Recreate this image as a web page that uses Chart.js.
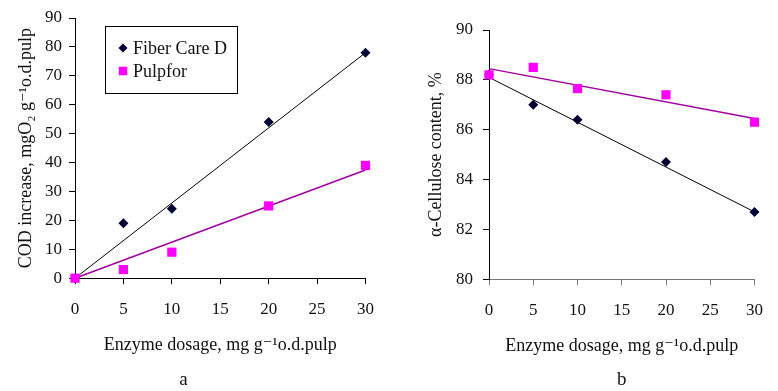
<!DOCTYPE html>
<html><head><meta charset="utf-8">
<script src="https://cdn.jsdelivr.net/npm/chart.js@4.4.1/dist/chart.umd.min.js"></script>
<style>
html,body{margin:0;padding:0;background:#fff;}
#wrap{position:relative;width:778px;height:391px;background:#fff;}
canvas{position:absolute;top:0;}
#ca{left:0}
#cb{left:389px}
</style></head><body>
<div id="wrap"><canvas id="ca" width="389" height="391"></canvas><canvas id="cb" width="389" height="391"></canvas></div>
<script>
// ---- data ----
const dosage = [0, 5, 10, 20, 30];
const codFiberCare = [0, 19, 24, 54, 78];
const codPulpfor = [0, 3, 9, 25, 39];
const celFiberCare = [88.2, 87.0, 86.4, 84.7, 82.7];
const celPulpfor = [88.2, 88.5, 87.65, 87.4, 86.3];
const trendX = [0, 30];
const codFiberTrend = [0, 78];
const codPulpforTrend = [0, 37.4];
const celFiberTrend = [88.1, 82.7];
const celPulpforTrend = [88.45, 86.45];
const xTicks = [0, 5, 10, 15, 20, 25, 30];
const seriesNames = ['Fiber Care D', 'Pulpfor'];

const SERIF = '"Liberation Serif", "Times New Roman", Times, "DejaVu Serif", serif';
Chart.defaults.font.family = SERIF;
Chart.defaults.color = '#111';

const FIBER_COLOR = '#000033';
const PULP_COLOR = '#ff00ff';
const PULP_LINE = '#a000a0';

function pts(xs, ys) { return xs.map((x, i) => ({ x: x, y: ys[i] })); }

function datasets(fiber, pulp, fiberTrend, pulpTrend) {
  return [
    { label: seriesNames[1], data: pts(dosage, pulp), showLine: false, pointStyle: 'rect',
      pointRadius: 6.5, pointHoverRadius: 6.5, backgroundColor: PULP_COLOR, borderColor: PULP_COLOR, borderWidth: 0, clip: false },
    { label: seriesNames[0], data: pts(dosage, fiber), showLine: false, pointStyle: 'rectRot',
      pointRadius: 5, pointHoverRadius: 5, backgroundColor: FIBER_COLOR, borderColor: FIBER_COLOR, borderWidth: 0, clip: false },
    { label: 'trend1', data: pts(trendX, fiberTrend), showLine: true, pointRadius: 0,
      borderColor: '#000', borderWidth: 1, clip: false },
    { label: 'trend2', data: pts(trendX, pulpTrend), showLine: true, pointRadius: 0,
      borderColor: PULP_LINE, borderWidth: 1.5, clip: false }
  ];
}

function xScale(axisColor, scaleHeight) {
  return {
    type: 'linear', min: 0, max: 30,
    afterBuildTicks: s => { s.ticks = xTicks.map(v => ({ value: v })); },
    afterFit: s => { s.height = scaleHeight; },
    border: { display: true, color: axisColor, width: 1 },
    grid: { display: true, drawOnChartArea: false, drawTicks: true, tickLength: 6, color: axisColor },
    ticks: { padding: 15, font: { size: 17 }, color: '#111', maxRotation: 0 },
    title: { display: true, text: 'Enzyme dosage, mg g\u207B\u00B9o.d.pulp', font: { size: 18 }, color: '#111', padding: { top: 0, bottom: 0 } }
  };
}

function yScale(min, max, step, width, title, titlePad, labelPad) {
  return {
    type: 'linear', min: min, max: max,
    ticks: { stepSize: step, padding: labelPad, font: { size: 17 }, color: '#111' },
    afterFit: s => { s.width = width; },
    border: { display: true, color: '#000', width: 1 },
    grid: { display: true, drawOnChartArea: false, drawTicks: true, tickLength: 6, color: '#000' },
    title: { display: true, text: title, font: { size: 18 }, color: '#111', padding: { top: titlePad, bottom: 0 } }
  };
}

const legendBox = {
  id: 'legendBox',
  afterDraw(chart, args, o) {
    if (!o || !o.show) return;
    const ctx = chart.ctx;
    ctx.save();
    ctx.strokeStyle = '#000';
    ctx.lineWidth = 1;
    ctx.strokeRect(o.x + 0.5, o.y + 0.5, o.w, o.h);
    const ds = chart.data.datasets;
    const entries = [ds[1], ds[0]];
    entries.forEach((d, i) => {
      const cy = o.y + o.firstRow + i * o.rowGap;
      const cx = o.x + o.markerX;
      const r = d.pointStyle === 'rect' ? 6 : 4.5;
      ctx.fillStyle = d.backgroundColor;
      ctx.strokeStyle = d.borderColor;
      if (Chart.helpers && Chart.helpers.drawPoint) {
        Chart.helpers.drawPoint(ctx, { pointStyle: d.pointStyle, radius: r, borderWidth: 0, rotation: 0 }, cx, cy);
      }
      ctx.fillStyle = '#111';
      ctx.font = '18px ' + SERIF;
      ctx.textBaseline = 'middle';
      ctx.textAlign = 'left';
      ctx.fillText(d.label, o.x + o.textX, cy + 1);
    });
    ctx.restore();
  }
};

function build() {
new Chart(document.getElementById('ca'), {
  type: 'scatter',
  data: { datasets: datasets(codFiberCare, codPulpfor, codFiberTrend, codPulpforTrend) },
  options: {
    responsive: false, animation: false, devicePixelRatio: 1,
    layout: { padding: { left: 0, right: 22, top: 18, bottom: 0 } },
    scales: {
      x: xScale('#000', 78),
      y: yScale(0, 90, 10, 75, 'COD increase, mgO\u2082 g\u207B\u00B9o.d.pulp', 15, 7)
    },
    plugins: {
      legend: { display: false },
      tooltip: { enabled: false },
      title: { display: true, text: 'a', position: 'bottom', fullSize: true, font: { size: 19, weight: 'normal' }, color: '#111', padding: { top: 12, bottom: 0 } },
      legendBox: { show: true, x: 105, y: 26, w: 132, h: 67, markerX: 18, textX: 28, firstRow: 22, rowGap: 23 }
    }
  },
  plugins: [legendBox]
});

new Chart(document.getElementById('cb'), {
  type: 'scatter',
  data: { datasets: datasets(celFiberCare, celPulpfor, celFiberTrend, celPulpforTrend) },
  options: {
    responsive: false, animation: false, devicePixelRatio: 1,
    layout: { padding: { left: 0, right: 10, top: 30, bottom: 0 } },
    scales: {
      x: xScale('#777', 78),
      y: yScale(80, 90, 2, 100, '\u03B1-Cellulose content, %', 36, 10)
    },
    plugins: {
      legend: { display: false },
      tooltip: { enabled: false },
      title: { display: true, text: 'b', position: 'bottom', fullSize: false, font: { size: 19, weight: 'normal' }, color: '#111', padding: { top: 11, bottom: 0 } },
      legendBox: { show: false }
    }
  },
  plugins: [legendBox]
});
}
if (document.fonts && document.fonts.load) {
  Promise.all([document.fonts.load('17px "Liberation Serif"'), document.fonts.load('18px "Liberation Serif"')]).then(build, build);
} else { build(); }
</script>
</body></html>
